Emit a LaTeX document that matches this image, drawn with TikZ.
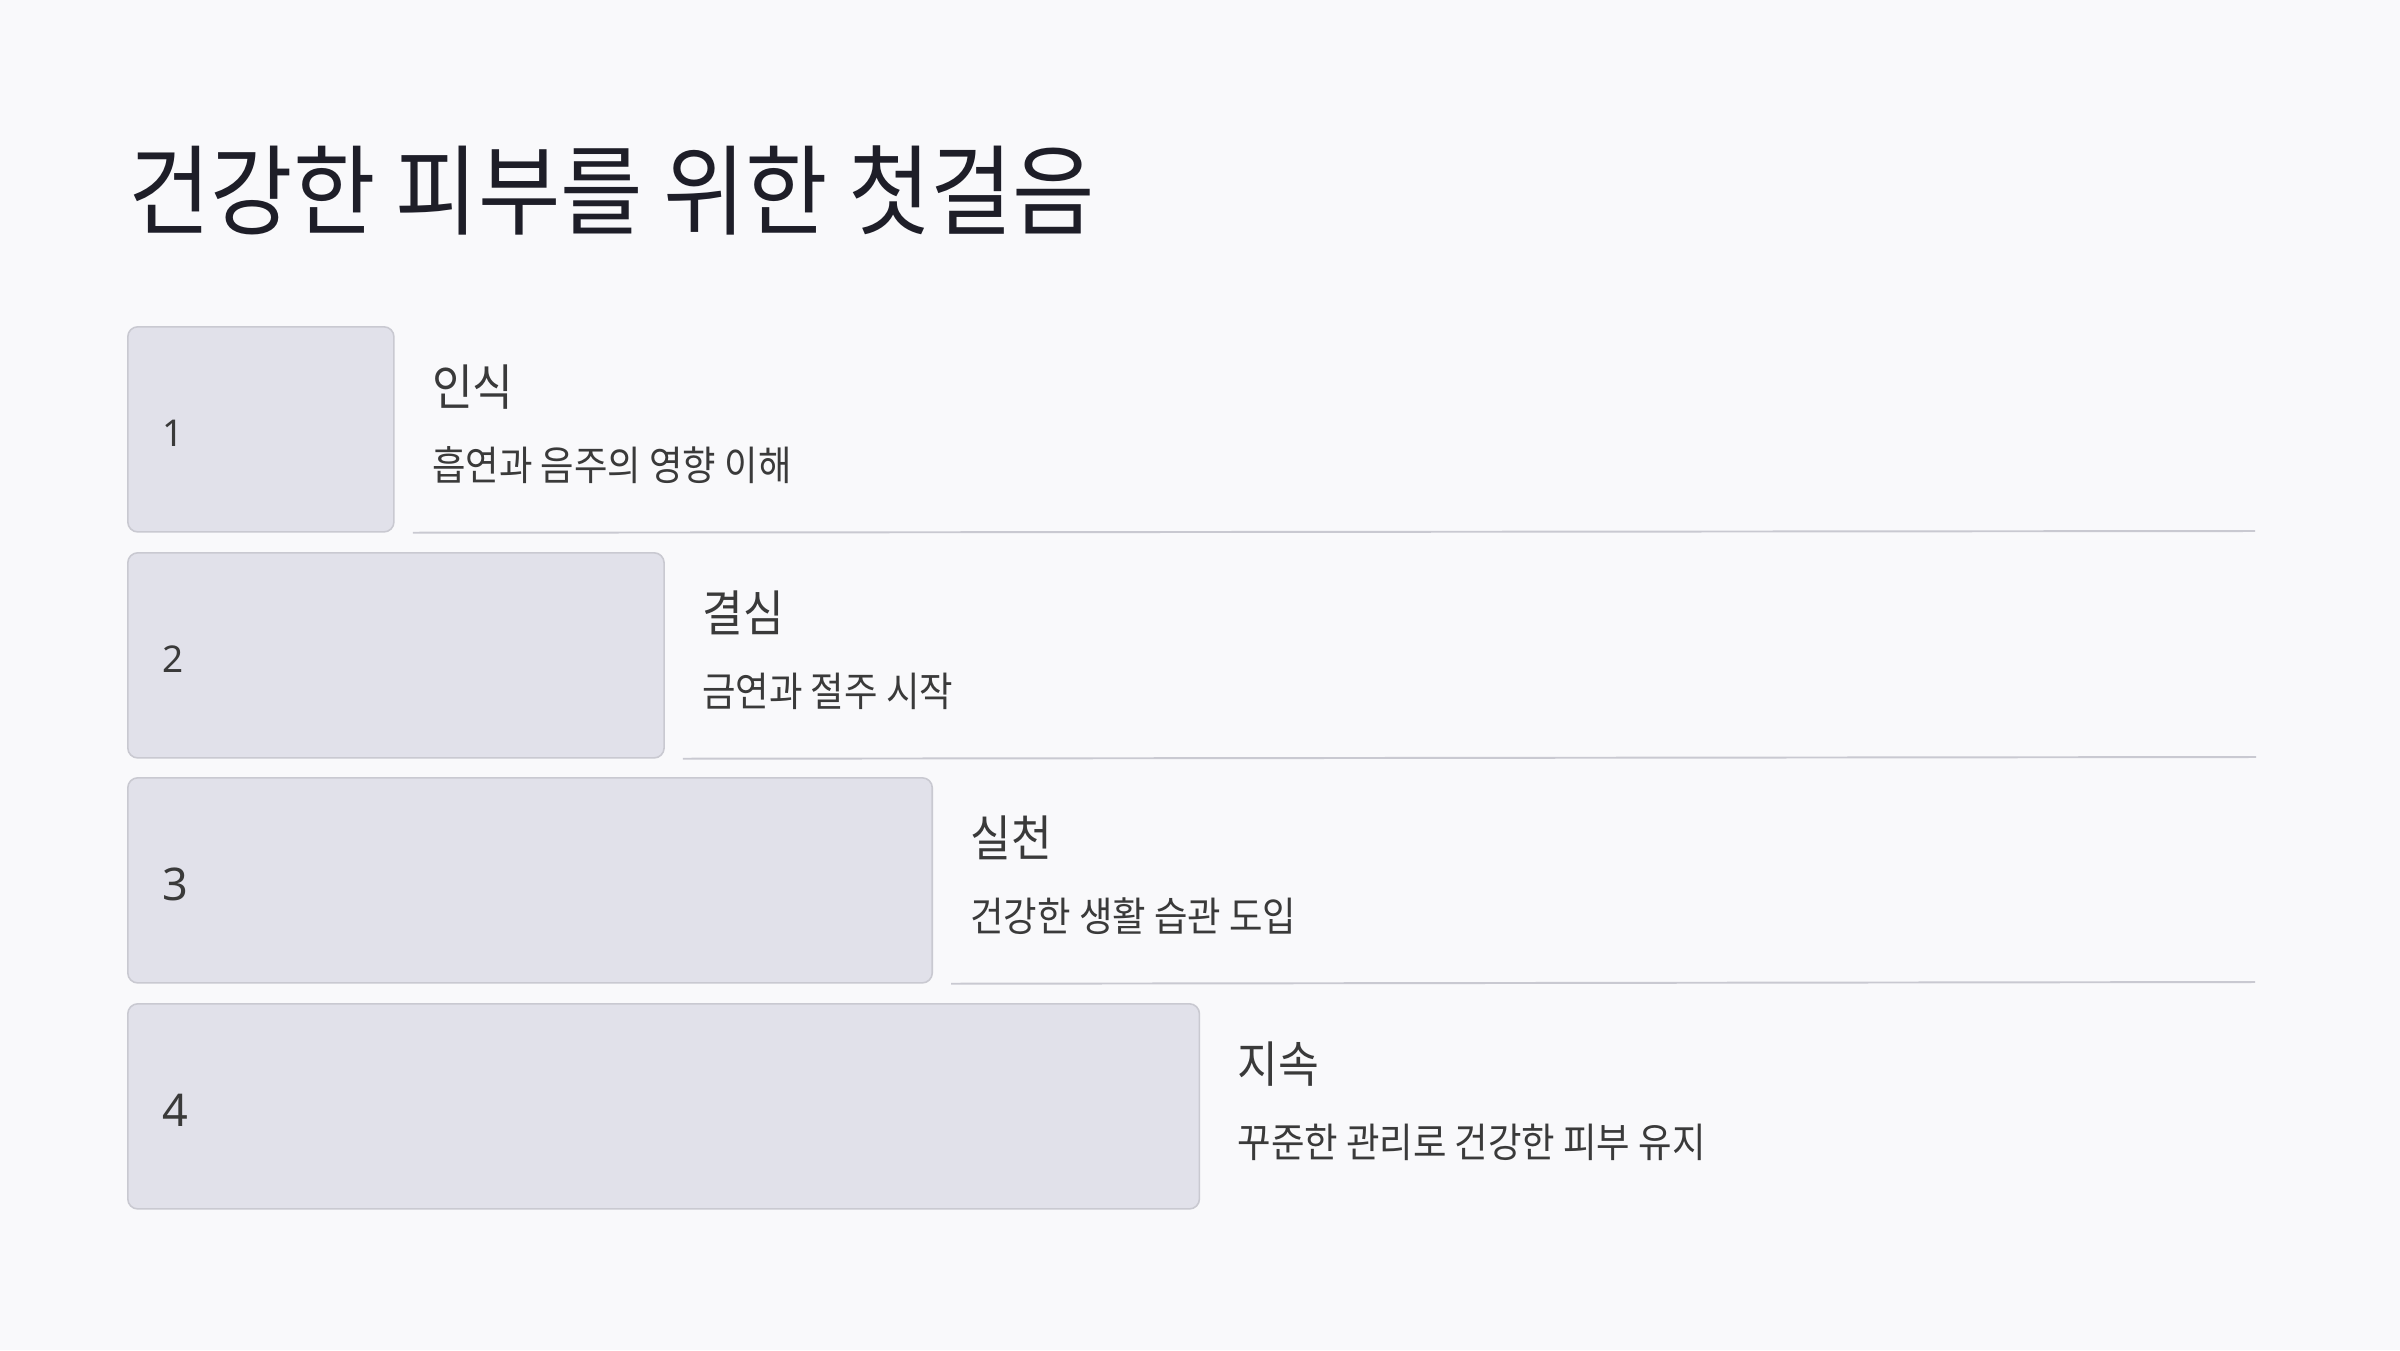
\documentclass[tikz,border=0pt]{standalone}
\usepackage{fontspec}
\setmainfont{Noto Sans CJK KR}[FakeStretch=0.9]
\newfontfamily\titlefont{Noto Sans CJK KR}[FakeStretch=0.91]
\newfontfamily\numfont{Noto Sans}
\usetikzlibrary{positioning}

\definecolor{bgcol}{HTML}{F9F9FB}
\definecolor{boxfill}{HTML}{E1E1EA}
\definecolor{boxline}{HTML}{C9C9D1}
\definecolor{titlecol}{HTML}{1E1E28}
\definecolor{textcol}{HTML}{3A3A3A}

\begin{document}
\begin{tikzpicture}[x=0.01cm, y=-0.01cm,
	stepbox/.style={draw=boxline, fill=boxfill, line width=0.45pt,
	rounded corners=1mm, minimum height=2.05cm, anchor=north west,
	inner sep=0pt},
	numstyle/.style={anchor=west, text=textcol, font=\numfont\fontsize{10.5}{12}\selectfont},
	headstyle/.style={anchor=west, text=textcol, font=\fontsize{14}{16}\selectfont},
	descstyle/.style={anchor=west, text=textcol, font=\fontsize{11.5}{13}\selectfont},
	sepline/.style={draw=boxline, line width=0.55pt}
	]
	% background and page size
	\fill[bgcol] (0,0) rectangle (2400,1350);
	\useasboundingbox (0,0) rectangle (2400,1350);

	\node[anchor=west, text=titlecol, font=\titlefont\fontsize{28}{32}\selectfont] (title) at (116,190) {건강한 피부를 위한 첫걸음};

	% steps
	\node[stepbox, minimum width=2.66cm] (b1) at (127,326) {};
	\node[stepbox, minimum width=5.36cm] (b2) at (127,552) {};
	\node[stepbox, minimum width=8.04cm] (b3) at (127,777) {};
	\node[stepbox, minimum width=10.71cm] (b4) at (127,1003) {};

	\node[numstyle] (n1) at ([xshift=0.23cm, yshift=-0.04cm]b1.west) {1};
	\node[numstyle] (n2) at ([xshift=0.23cm, yshift=-0.04cm]b2.west) {2};
	\node[numstyle, font=\numfont\fontsize{12.8}{14}\selectfont] (n3) at ([xshift=0.23cm, yshift=-0.04cm]b3.west) {3};
	\node[numstyle, font=\numfont\fontsize{12.8}{14}\selectfont] (n4) at ([xshift=0.23cm, yshift=-0.04cm]b4.west) {4};

	\node[headstyle] (h1) at ([xshift=0.25cm, yshift=-0.61cm]b1.north east) {인식};
	\node[descstyle] (d1) at ([xshift=0.25cm, yshift=-1.39cm]b1.north east) {흡연과 음주의 영향 이해};
	\node[headstyle] (h2) at ([xshift=0.25cm, yshift=-0.61cm]b2.north east) {결심};
	\node[descstyle] (d2) at ([xshift=0.25cm, yshift=-1.39cm]b2.north east) {금연과 절주 시작};
	\node[headstyle] (h3) at ([xshift=0.25cm, yshift=-0.61cm]b3.north east) {실천};
	\node[descstyle] (d3) at ([xshift=0.25cm, yshift=-1.39cm]b3.north east) {건강한 생활 습관 도입};
	\node[headstyle] (h4) at ([xshift=0.25cm, yshift=-0.61cm]b4.north east) {지속};
	\node[descstyle] (d4) at ([xshift=0.25cm, yshift=-1.39cm]b4.north east) {꾸준한 관리로 건강한 피부 유지};

	% separators
	\coordinate (e1) at (2255,531);
	\coordinate (e2) at (2256,757);
	\coordinate (e3) at (2255,982);
	\draw[sepline] ([xshift=0.18cm]b1.south east) -- (e1);
	\draw[sepline] ([xshift=0.18cm]b2.south east) -- (e2);
	\draw[sepline] ([xshift=0.18cm]b3.south east) -- (e3);
\end{tikzpicture}
\end{document}
